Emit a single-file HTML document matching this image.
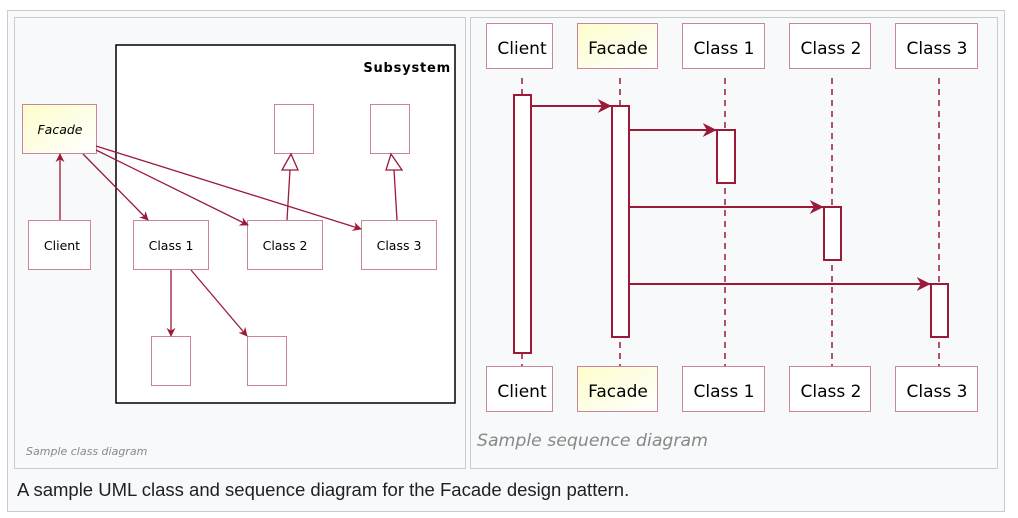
<!DOCTYPE html>
<html><head><meta charset="utf-8"><style>
html,body{margin:0;padding:0;background:#fff;width:1018px;height:518px;overflow:hidden}
svg{display:block}
</style></head><body>
<svg width="1018" height="518" xmlns="http://www.w3.org/2000/svg" font-family="Liberation Sans, DejaVu Sans, sans-serif">
<defs>
<linearGradient id="y" x1="0" y1="0" x2="1" y2="1"><stop offset="0" stop-color="#fefecb"/><stop offset="1" stop-color="#ffffff"/></linearGradient>
<marker id="a" viewBox="0 0 10 10" refX="9" refY="5" markerWidth="9" markerHeight="9" orient="auto" markerUnits="userSpaceOnUse"><path d="M0,0 L10,5 L0,10 L3,5 z" fill="#9a1a38"/></marker>
<marker id="b" viewBox="0 0 10 10" refX="9.5" refY="5" markerWidth="20" markerHeight="14" orient="auto" markerUnits="userSpaceOnUse"><path d="M0,0 L10,5 L0,10 L3,5 z" fill="#9a1a38"/></marker>
</defs>
<rect x="7.5" y="10.5" width="997" height="501" fill="#f8f9fa" stroke="#c8ccd1"/>
<rect x="14.5" y="17.5" width="451" height="451" fill="#f8f9fa" stroke="#c8ccd1"/>
<rect x="470.5" y="17.5" width="527" height="451" fill="#f8f9fa" stroke="#c8ccd1"/>
<rect x="116" y="45" width="339" height="358" fill="#fff" stroke="#000" stroke-width="1.5"/>
<text x="451" y="72" font-size="13" font-weight="bold" text-anchor="end" letter-spacing="0.8" font-family="DejaVu Sans, sans-serif">Subsystem</text>
<g stroke="#c9869a" fill="#fff">
<rect x="22.5" y="104.5" width="74" height="49" fill="url(#y)"/>
<rect x="28.5" y="220.5" width="62" height="49"/>
<rect x="133.5" y="220.5" width="75" height="49"/>
<rect x="247.5" y="220.5" width="75" height="49"/>
<rect x="361.5" y="220.5" width="75" height="49"/>
<rect x="274.5" y="104.5" width="39" height="49"/>
<rect x="370.5" y="104.5" width="39" height="49"/>
<rect x="151.5" y="336.5" width="39" height="49"/>
<rect x="247.5" y="336.5" width="39" height="49"/>
</g>
<g font-size="12.5" text-anchor="middle" font-family="DejaVu Sans, sans-serif">
<text x="60" y="134" font-style="italic">Facade</text>
<text x="62" y="250">Client</text>
<text x="171" y="250">Class 1</text>
<text x="285" y="250">Class 2</text>
<text x="399" y="250">Class 3</text>
</g>
<g stroke="#9a1a38" stroke-width="1.3" fill="none">
<line x1="60" y1="220" x2="60" y2="154" marker-end="url(#a)"/>
<line x1="83" y1="154" x2="148" y2="220" marker-end="url(#a)"/>
<line x1="96" y1="150" x2="248" y2="225" marker-end="url(#a)"/>
<line x1="96" y1="146" x2="361" y2="229" marker-end="url(#a)"/>
<line x1="171" y1="270" x2="171" y2="336" marker-end="url(#a)"/>
<line x1="191" y1="270" x2="247" y2="336" marker-end="url(#a)"/>
<line x1="287" y1="220" x2="290" y2="170"/>
<line x1="397" y1="220" x2="394" y2="170"/>
<path d="M282,170 L298,170 L291,154 z M386,170 L402,170 L391,154 z" fill="#fff"/>
</g>
<text x="26" y="455" font-size="11" font-style="italic" fill="#888" font-family="DejaVu Sans, sans-serif">Sample class diagram</text>
<g stroke="#9a1a38" stroke-width="1.5" stroke-dasharray="6,5">
<line x1="522" y1="78" x2="522" y2="366"/>
<line x1="620" y1="78" x2="620" y2="366"/>
<line x1="725" y1="78" x2="725" y2="366"/>
<line x1="832" y1="78" x2="832" y2="366"/>
<line x1="939" y1="78" x2="939" y2="366"/>
</g>
<g stroke="#c9869a" fill="#fff">
<rect x="486.5" y="23.5" width="66" height="45"/><rect x="577.5" y="23.5" width="80" height="45" fill="url(#y)"/><rect x="682.5" y="23.5" width="82" height="45"/><rect x="789.5" y="23.5" width="81" height="45"/><rect x="895.5" y="23.5" width="82" height="45"/>
<rect x="486.5" y="366.5" width="66" height="45"/><rect x="577.5" y="366.5" width="80" height="45" fill="url(#y)"/><rect x="682.5" y="366.5" width="82" height="45"/><rect x="789.5" y="366.5" width="81" height="45"/><rect x="895.5" y="366.5" width="82" height="45"/>
</g>
<g font-size="17" text-anchor="middle" font-family="DejaVu Sans, sans-serif">
<text x="522" y="54">Client</text><text x="618" y="54">Facade</text><text x="724" y="54">Class 1</text><text x="831" y="54">Class 2</text><text x="937" y="54">Class 3</text>
<text x="522" y="397">Client</text><text x="618" y="397">Facade</text><text x="724" y="397">Class 1</text><text x="831" y="397">Class 2</text><text x="937" y="397">Class 3</text>
</g>
<g stroke="#9a1a38" stroke-width="2" fill="#fff">
<rect x="514" y="95" width="17" height="258"/>
<rect x="612" y="106" width="17" height="231"/>
<rect x="717" y="130" width="18" height="53"/>
<rect x="824" y="207" width="17" height="53"/>
<rect x="931" y="284" width="17" height="53"/>
<line x1="531" y1="106" x2="611" y2="106" marker-end="url(#b)"/>
<line x1="629" y1="130" x2="716" y2="130" marker-end="url(#b)"/>
<line x1="629" y1="207" x2="823" y2="207" marker-end="url(#b)"/>
<line x1="629" y1="284" x2="930" y2="284" marker-end="url(#b)"/>
</g>
<text x="477" y="446" font-size="17.3" font-style="italic" fill="#888" font-family="DejaVu Sans, sans-serif">Sample sequence diagram</text>
<text x="17" y="496" font-size="18.5" fill="#202122">A sample UML class and sequence diagram for the Facade design pattern.</text>
</svg>
</body></html>
